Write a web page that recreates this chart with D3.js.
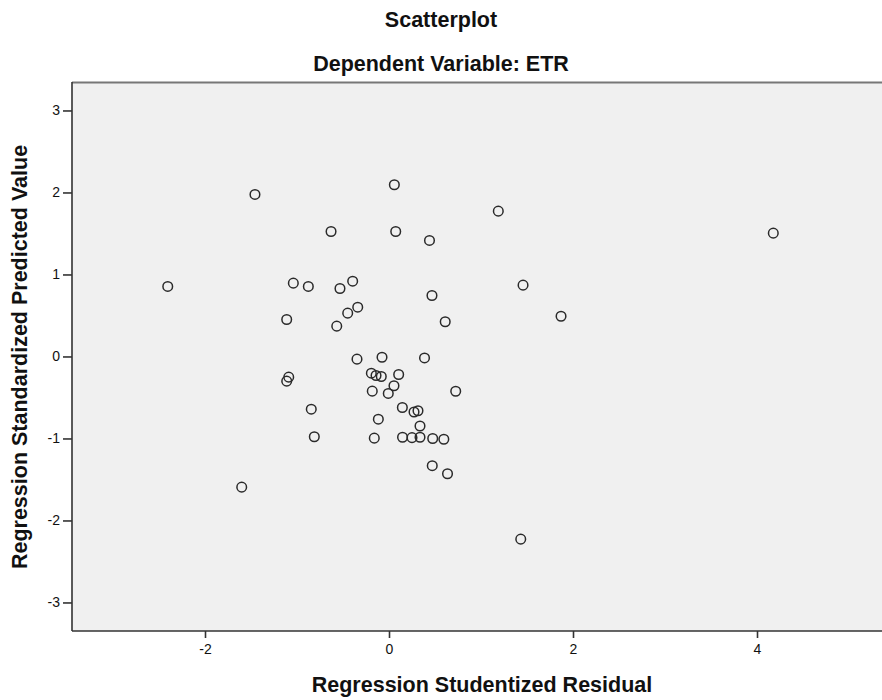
<!DOCTYPE html>
<html>
<head>
<meta charset="utf-8">
<style>
  body { margin: 0; background: #fff; }
  text { font-family: "Liberation Sans", Arial, sans-serif; fill: #111; }
</style>
</head>
<body>
<svg width="882" height="700"></svg>
<script src="https://cdn.jsdelivr.net/npm/d3@7"></script>
<script>

// Regression Studentized Residual (x) and Standardized Predicted Value (y)
var residual = [
  -1.457, 0.058, 1.188, -0.630, 0.073, 0.440, 4.177, -2.405, -1.040, -0.877,
  -0.533, -0.395, 0.467, 1.457, -1.112, -0.568, -0.449, -0.340, 0.611, 1.870,
  -0.348, -0.076, 0.386, -1.090, -1.112, -0.192, -0.141, -0.084, 0.105, 0.054,
  -0.182, -0.008, 0.725, -0.845, 0.145, 0.272, 0.315, -0.116, 0.337, -0.812,
  -0.160, 0.147, 0.250, 0.337, 0.475, 0.596, 0.470, 0.636, 1.432, -1.601
];
var predicted = [
  1.976, 2.094, 1.772, 1.524, 1.524, 1.415, 1.504, 0.854, 0.894, 0.854,
  0.829, 0.918, 0.744, 0.870, 0.451, 0.370, 0.528, 0.601, 0.423, 0.491,
  -0.033, -0.009, -0.018, -0.252, -0.301, -0.204, -0.232, -0.244, -0.220, -0.357,
  -0.423, -0.451, -0.424, -0.643, -0.622, -0.677, -0.662, -0.765, -0.848, -0.979,
  -0.996, -0.985, -0.990, -0.985, -1.000, -1.009, -1.332, -1.430, -2.228, -1.594
];
var xTicks = [-2, 0, 2, 4];
var yTicks = [-3, -2, -1, 0, 1, 2, 3];

var svg = d3.select("svg");

var plotLeft = 72, plotTop = 83, plotRight = 884, plotBottom = 631;

var x = d3.scaleLinear().domain([-3.4457, 5.3804]).range([plotLeft, plotRight]);
var y = d3.scaleLinear().domain([-3.348, 3.335]).range([plotBottom, plotTop]);

var points = residual.map(function(d, i) { return [d, predicted[i]]; });

// plot background
svg.append("rect")
    .attr("x", plotLeft).attr("y", plotTop)
    .attr("width", plotRight - plotLeft).attr("height", plotBottom - plotTop)
    .attr("fill", "#f0f0f0");

svg.append("line")
    .attr("x1", plotLeft).attr("x2", plotRight)
    .attr("y1", plotTop - 0.5).attr("y2", plotTop - 0.5)
    .attr("stroke", "#777").attr("stroke-width", 2);

// axes
var fmt = function(d) { return String(d); };

var xAxis = svg.append("g")
    .attr("transform", "translate(0," + plotBottom + ")")
    .call(d3.axisBottom(x).tickValues(xTicks).tickSize(7).tickPadding(6).tickFormat(fmt));

var yAxis = svg.append("g")
    .attr("transform", "translate(" + plotLeft + ",0)")
    .call(d3.axisLeft(y).tickValues(yTicks).tickSize(9).tickPadding(3).tickFormat(fmt));

[xAxis, yAxis].forEach(function(g) {
  g.select(".domain").attr("stroke", "#333").attr("stroke-width", 1.6);
  g.selectAll(".tick line").attr("stroke", "#333").attr("stroke-width", 1.6);
  g.selectAll(".tick text")
      .attr("fill", "#222")
      .style("font-family", "'Liberation Sans', Arial, sans-serif")
      .style("font-size", "14px");
});
xAxis.select(".domain").attr("d", "M" + plotLeft + ",0H" + plotRight);
yAxis.select(".domain").attr("d", "M0," + plotBottom + "V" + (plotTop - 1));

// points
svg.append("g")
  .selectAll("circle")
  .data(points)
  .enter().append("circle")
    .attr("cx", function(d) { return x(d[0]); })
    .attr("cy", function(d) { return y(d[1]); })
    .attr("r", 4.8)
    .attr("fill", "none")
    .attr("stroke", "#2a2a2a")
    .attr("stroke-width", 1.5);

// titles
svg.append("text")
    .attr("x", 441).attr("y", 27)
    .attr("text-anchor", "middle")
    .style("font-size", "21.5px").style("font-weight", "bold")
    .text("Scatterplot");

svg.append("text")
    .attr("x", 441).attr("y", 71)
    .attr("text-anchor", "middle")
    .style("font-size", "21.5px").style("font-weight", "bold")
    .text("Dependent Variable: ETR");

svg.append("text")
    .attr("x", 482).attr("y", 692)
    .attr("text-anchor", "middle")
    .style("font-size", "21.5px").style("font-weight", "bold")
    .text("Regression Studentized Residual");

svg.append("text")
    .attr("transform", "translate(27,357) rotate(-90)")
    .attr("text-anchor", "middle")
    .style("font-size", "21.5px").style("font-weight", "bold")
    .text("Regression Standardized Predicted Value");

</script>
</body>
</html>
